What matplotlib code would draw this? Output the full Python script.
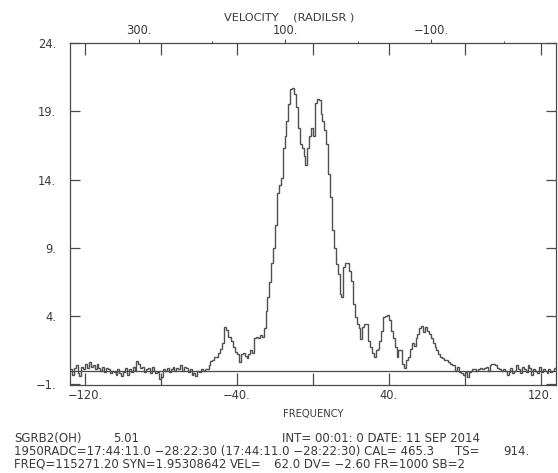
import numpy as np
import matplotlib
matplotlib.use("Agg")
import matplotlib.pyplot as plt

plt.rcParams['font.family'] = ['DejaVu Sans']

# Channel grid: 256 channels of 1 MHz, offsets from the line centre
chan_edges = np.arange(-128, 129)

# Antenna temperature per channel (K), left baseline
temp_left = [0.1, -0.3, 0.2, 0.4, -0.2, -0.4, 0.3, 0.1, 0.5, 0.2,
             0.6, 0.3, 0.4, 0.1, 0.5, 0.2, 0.0, 0.3, -0.1, 0.2,
             0.1, -0.2, 0.0, -0.1, -0.3, 0.1, -0.2, -0.4, -0.1, 0.2,
             -0.3, 0.1, -0.1, 0.3, 0.0, 0.7, 0.5, 0.2, 0.3, -0.1,
             0.1, 0.2, -0.2, 0.3, 0.0, -0.2, -0.1, -0.6, -0.5, 0.1,
             0.0, 0.2, -0.1, 0.1, 0.3, 0.0, 0.2, 0.1, 0.4, 0.0,
             0.3, 0.2, -0.1, 0.1, -0.3, -0.2, -0.4, 0.0, -0.1, 0.1,
             0.0, 0.1]
# Line emission
temp_line = [0.1, 0.4, 0.7, 0.8, 1.0, 1.0, 1.3, 1.6, 2.0, 3.2,
             3.0, 2.5, 2.5, 2.2, 1.7, 1.4, 1.2, 0.6, 1.2, 1.3,
             1.1, 0.9, 1.2, 1.5, 1.3, 2.4, 2.5, 2.4, 2.6, 2.5,
             3.1, 4.4, 5.4, 6.5, 7.9, 9.0, 10.7, 13.0, 13.6, 14.1,
             16.3, 17.2, 18.3, 19.5, 20.6, 20.7, 20.3, 19.3, 17.8, 16.6,
             16.3, 15.7, 15.1, 16.3, 17.2, 17.8, 17.2, 19.6, 19.9, 19.8,
             18.8, 18.3, 17.6, 16.6, 14.4, 12.7, 10.3, 9.0, 7.8, 7.1,
             5.6, 5.4, 7.6, 7.9, 7.9, 7.3, 6.6, 4.9, 3.9, 3.4,
             3.1, 2.3, 3.2, 3.4, 3.4, 2.2, 1.7, 1.3, 1.0, 1.5,
             1.6, 2.2, 2.9, 3.9, 4.0, 4.1, 3.7, 2.9, 2.4, 1.7,
             1.0, 1.5, 1.5, 0.5, 0.2, 0.75, 1.0, 1.6, 2.0, 1.8,
             2.4, 2.7, 3.1, 3.3, 2.8, 3.2, 2.9, 2.7, 2.4, 2.0,
             1.7, 1.5, 1.2, 1.0, 0.9, 0.8, 0.75, 0.6, 0.5, 0.4,
             0.4, 0.0, 0.3, -0.1, -0.2, -0.35, -0.1, -0.5]
# Right baseline
temp_right = [-0.1, 0.0, 0.1, 0.1, 0.0, 0.1, 0.2, 0.1, 0.2, 0.3,
              0.0, 0.4, 0.5, 0.5, 0.4, 0.2, 0.1, 0.0, 0.1, 0.0,
              -0.3, -0.1, 0.2, -0.2, 0.0, 0.4, 0.1, -0.2, 0.3, 0.1,
              -0.1, 0.4, 0.2, -0.3, 0.1, 0.0, -0.2, 0.3, -0.1, 0.1,
              0.0, -0.2, 0.1, -0.1, 0.0, 0.2]
temps = np.array(temp_left + temp_line + temp_right)

# Axis ticks
y_ticks = [-1, 4, 9, 14, 19, 24]
y_labels = ["\u22121.", "4.", "9.", "14.", "19.", "24."]
x_ticks = [-120, -80, -40, 0, 40, 80, 120]
x_labels = ["\u2212120.", "", "\u221240.", "", "40.", "", "120."]
vel_major = [300, 100, -100]
vel_labels = ["300.", "100.", "\u2212100."]
vel_minor = [200, 0, -200]

# Velocity scale: v = VEL + DV * f
v_ref = 62.0
dv = -2.60

ink = "#4a4a4a"
txt = "#3a3a3a"
fig = plt.figure(figsize=(5.58, 4.73), dpi=100)
ax = fig.add_axes([70 / 558, 1 - 385 / 473, 486 / 558, 342 / 473])

ax.stairs(temps, chan_edges[:len(temps) + 1], baseline=None,
          color="#505050", linewidth=1.0)
ax.axhline(0, color=ink, linewidth=0.9)

ax.set_xlim(-128, 128)
ax.set_ylim(-1.05, 24)

ax.set_yticks(y_ticks)
ax.set_yticklabels(y_labels)
ax.set_xticks(x_ticks)
ax.set_xticklabels(x_labels)
ax.tick_params(axis="y", direction="in", length=7.5, width=0.9, color=ink,
               left=True, right=True, labelsize=8.3, labelcolor=txt, pad=10)
ax.tick_params(axis="x", direction="in", length=8.5, width=0.9, color=ink,
               bottom=True, top=True, labelsize=8.3, labelcolor=txt, pad=3)
for s in ax.spines.values():
    s.set_color(ink)
    s.set_linewidth(0.9)

ax.set_xlabel("FREQUENCY", fontsize=7.2, color=txt, labelpad=5)

sec = ax.secondary_xaxis("top", functions=(lambda f: v_ref + dv * f,
                                           lambda v: (v - v_ref) / dv))
sec.set_xticks(vel_major)
sec.set_xticklabels(vel_labels)
sec.set_xticks(vel_minor, minor=True)
sec.tick_params(axis="x", which="major", direction="out", length=3, width=0.8,
                color=ink, labelsize=8.3, labelcolor=txt, pad=1)
sec.tick_params(axis="x", which="minor", direction="out", length=1.5, width=0.8,
                color=ink)
sec.spines["top"].set_visible(False)

fig.text(224 / 558, 1 - 18 / 473, "VELOCITY    (RADILSR )", fontsize=8.2,
         color=txt, ha="left", va="center")

# Scan header block
info = dict(fontsize=8.5, color=txt, ha="left", va="center")
row1, row2, row3 = 1 - 438 / 473, 1 - 451 / 473, 1 - 464 / 473
fig.text(14 / 558, row1, "SGRB2(OH)", **info)
fig.text(113 / 558, row1, "5.01", **info)
fig.text(282 / 558, row1, "INT= 00:01: 0 DATE: 11 SEP 2014", **info)
fig.text(14 / 558, row2,
         "1950RADC=17:44:11.0 \u221228:22:30 (17:44:11.0 \u221228:22:30) CAL= 465.3",
         **info)
fig.text(455 / 558, row2, "TS=", **info)
fig.text(503 / 558, row2, "914.", **info)
fig.text(14 / 558, row3, "FREQ=115271.20 SYN=1.95308642", **info)
fig.text(230 / 558, row3, "VEL=", **info)
fig.text(274 / 558, row3, "62.0 DV= \u22122.60 FR=1000 SB=2", **info)

fig.savefig("out.png", dpi=100)
